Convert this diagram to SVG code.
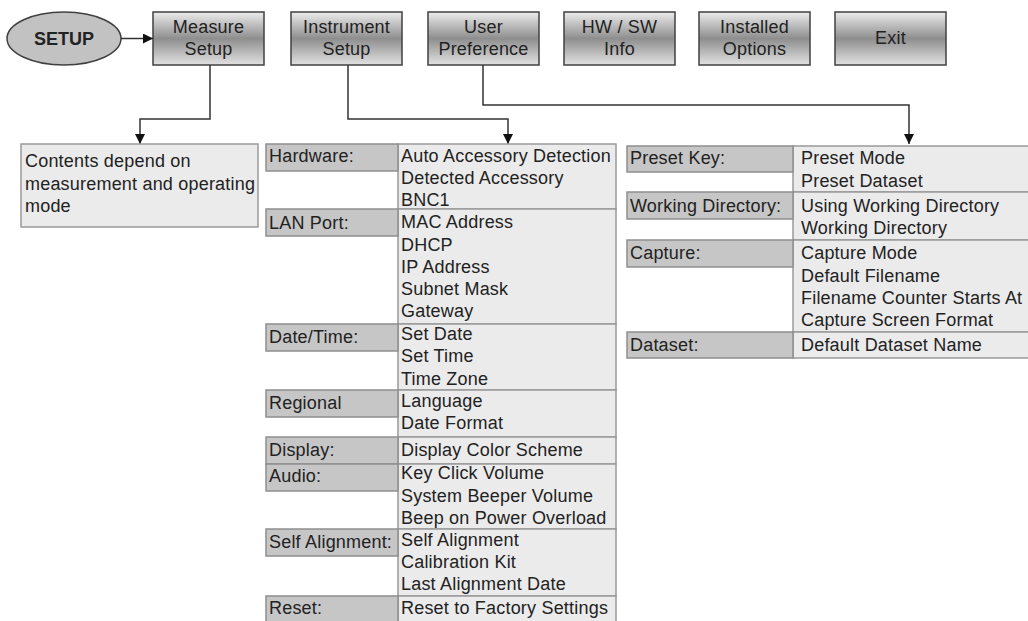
<svg xmlns="http://www.w3.org/2000/svg" width="1028" height="621" viewBox="0 0 1028 621">
<style>
text{font-family:"Liberation Sans",Arial,sans-serif;font-size:18px;fill:#222;letter-spacing:0.2px}
.btn{fill:url(#metal);stroke:#404040;stroke-width:1.5}
.bt{text-anchor:middle}
.lbl{fill:#c6c6c6;stroke:#8e8e8e;stroke-width:1.5}
.val{fill:#ebebeb;stroke:#9a9a9a;stroke-width:1.5}
.con{fill:none;stroke:#333;stroke-width:1.5}
</style>
<defs>
<linearGradient id="metal" x1="0" y1="0" x2="0" y2="1">
<stop offset="0" stop-color="#ececec"/>
<stop offset="0.5" stop-color="#8e8e8e"/>
<stop offset="1" stop-color="#e2e2e2"/>
</linearGradient>
<marker id="arr" viewBox="0 0 10 10" refX="10" refY="5" markerWidth="10" markerHeight="10" markerUnits="userSpaceOnUse" orient="auto">
<path d="M0,0 L10,5 L0,10 z" fill="#111"/>
</marker>
</defs>

<g id="setup">
<ellipse cx="64" cy="38.5" rx="57" ry="26.5" fill="#c2c2c2" stroke="#404040" stroke-width="1.5"/>
<text x="64" y="45" class="bt" style="font-weight:bold;letter-spacing:0">SETUP</text>
</g>

<g id="btn-measure"><rect class="btn" x="153" y="12" width="111" height="53"/><text class="bt" x="208.5" y="33">Measure</text><text class="bt" x="208.5" y="55">Setup</text></g>
<g id="btn-instrument"><rect class="btn" x="291" y="12" width="111" height="53"/><text class="bt" x="346.5" y="33">Instrument</text><text class="bt" x="346.5" y="55">Setup</text></g>
<g id="btn-user"><rect class="btn" x="428" y="12" width="111" height="53"/><text class="bt" x="483.5" y="33">User</text><text class="bt" x="483.5" y="55">Preference</text></g>
<g id="btn-hwsw"><rect class="btn" x="564" y="12" width="111" height="53"/><text class="bt" x="619.5" y="33">HW / SW</text><text class="bt" x="619.5" y="55">Info</text></g>
<g id="btn-installed"><rect class="btn" x="699" y="12" width="111" height="53"/><text class="bt" x="754.5" y="33">Installed</text><text class="bt" x="754.5" y="55">Options</text></g>
<g id="btn-exit"><rect class="btn" x="835" y="12" width="111" height="53"/><text class="bt" x="890.5" y="44">Exit</text></g>

<g id="connectors">
<path class="con" d="M121,38.5 H153" marker-end="url(#arr)"/>
<path class="con" d="M210,65 V119 H140 V144" marker-end="url(#arr)"/>
<path class="con" d="M348,65 V119 H508 V144" marker-end="url(#arr)"/>
<path class="con" d="M483,65 V105 H909 V144" marker-end="url(#arr)"/>
</g>

<g id="measure-contents">
<rect class="val" x="21" y="144" width="237" height="83"/>
<text x="25" y="167">Contents depend on</text>
<text x="25" y="190">measurement and operating</text>
<text x="25" y="212">mode</text>
</g>

<g id="instrument-table">
<rect class="val" x="398" y="144" width="218" height="65"/>
<rect class="val" x="398" y="209" width="218" height="115"/>
<rect class="val" x="398" y="324" width="218" height="66"/>
<rect class="val" x="398" y="390" width="218" height="47"/>
<rect class="val" x="398" y="437" width="218" height="27"/>
<rect class="val" x="398" y="464" width="218" height="65"/>
<rect class="val" x="398" y="529" width="218" height="67"/>
<rect class="val" x="398" y="596" width="218" height="30"/>
<rect class="lbl" x="266" y="144" width="132" height="27"/>
<rect class="lbl" x="266" y="209" width="132" height="27"/>
<rect class="lbl" x="266" y="324" width="132" height="27"/>
<rect class="lbl" x="266" y="390" width="132" height="27"/>
<rect class="lbl" x="266" y="437" width="132" height="27"/>
<rect class="lbl" x="266" y="464" width="132" height="27"/>
<rect class="lbl" x="266" y="529" width="132" height="27"/>
<rect class="lbl" x="266" y="596" width="132" height="30"/>
<text x="269" y="162">Hardware:</text>
<text x="269" y="229">LAN Port:</text>
<text x="269" y="343">Date/Time:</text>
<text x="269" y="409">Regional</text>
<text x="269" y="456">Display:</text>
<text x="269" y="482">Audio:</text>
<text x="269" y="548">Self Alignment:</text>
<text x="269" y="614">Reset:</text>
<text x="401" y="162">Auto Accessory Detection</text>
<text x="401" y="184">Detected Accessory</text>
<text x="401" y="206">BNC1</text>
<text x="401" y="228">MAC Address</text>
<text x="401" y="251">DHCP</text>
<text x="401" y="273">IP Address</text>
<text x="401" y="295">Subnet Mask</text>
<text x="401" y="317">Gateway</text>
<text x="401" y="340">Set Date</text>
<text x="401" y="362">Set Time</text>
<text x="401" y="385">Time Zone</text>
<text x="401" y="407">Language</text>
<text x="401" y="429">Date Format</text>
<text x="401" y="456">Display Color Scheme</text>
<text x="401" y="479">Key Click Volume</text>
<text x="401" y="502">System Beeper Volume</text>
<text x="401" y="524">Beep on Power Overload</text>
<text x="401" y="546">Self Alignment</text>
<text x="401" y="568">Calibration Kit</text>
<text x="401" y="590">Last Alignment Date</text>
<text x="401" y="614">Reset to Factory Settings</text>
</g>

<g id="user-table">
<rect class="val" x="793" y="146" width="240" height="46"/>
<rect class="val" x="793" y="192" width="240" height="48"/>
<rect class="val" x="793" y="240" width="240" height="92"/>
<rect class="val" x="793" y="332" width="240" height="26"/>
<rect class="lbl" x="627" y="146" width="166" height="26"/>
<rect class="lbl" x="627" y="192" width="166" height="27"/>
<rect class="lbl" x="627" y="240" width="166" height="27"/>
<rect class="lbl" x="627" y="332" width="166" height="26"/>
<text x="630" y="164">Preset Key:</text>
<text x="630" y="212">Working Directory:</text>
<text x="630" y="259">Capture:</text>
<text x="630" y="351">Dataset:</text>
<text x="801" y="164">Preset Mode</text>
<text x="801" y="187">Preset Dataset</text>
<text x="801" y="212">Using Working Directory</text>
<text x="801" y="234">Working Directory</text>
<text x="801" y="259">Capture Mode</text>
<text x="801" y="282">Default Filename</text>
<text x="801" y="304">Filename Counter Starts At</text>
<text x="801" y="326">Capture Screen Format</text>
<text x="801" y="351">Default Dataset Name</text>
</g>
</svg>
